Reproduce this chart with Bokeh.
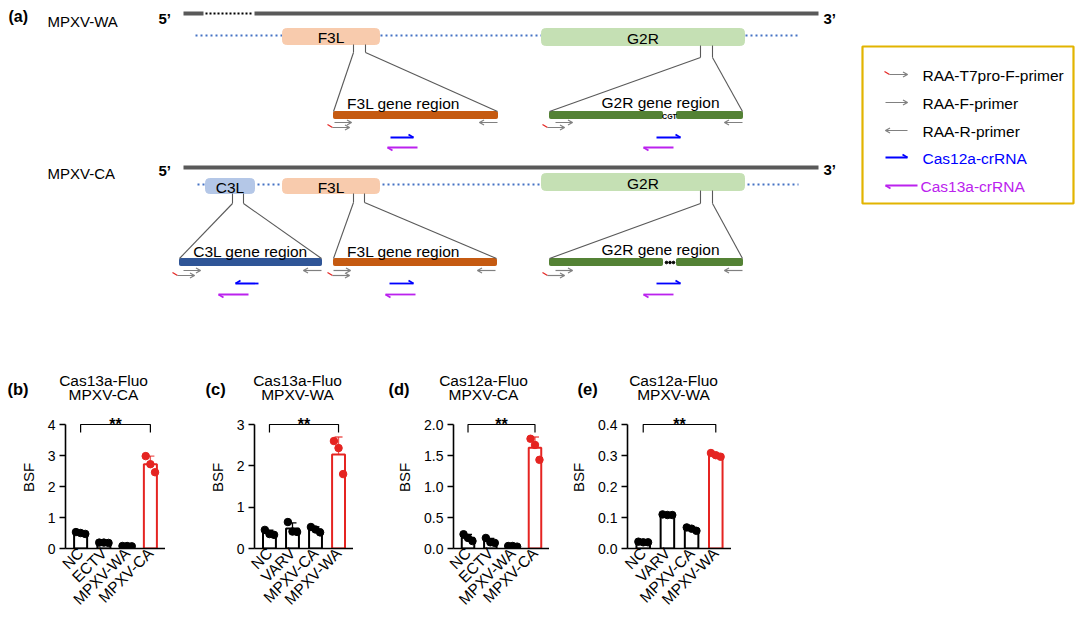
import math
import numpy as np
from bokeh.plotting import figure
from bokeh.models import (Range1d, FixedTicker, PrintfTickFormatter, Whisker,
                          ColumnDataSource, TeeHead)
from bokeh.layouts import column, row
from bokeh.core.properties import value
from bokeh.embed import file_html
from bokeh.resources import INLINE

FONT = "Liberation Sans"

# ---------------- data (bar charts) ----------------
b_categories = ["NC", "ECTV", "MPXV-WA", "MPXV-CA"]
b_points = [[0.53, 0.50, 0.47], [0.19, 0.19, 0.18], [0.08, 0.08, 0.07], [2.98, 2.72, 2.46]]
b_title = ["Cas13a-Fluo", "MPXV-CA"]
b_yticks = [0, 1, 2, 3, 4]

c_categories = ["NC", "VARV", "MPXV-CA", "MPXV-WA"]
c_points = [[0.45, 0.35, 0.33], [0.64, 0.41, 0.40], [0.52, 0.46, 0.39], [2.60, 2.43, 1.80]]
c_title = ["Cas13a-Fluo", "MPXV-WA"]
c_yticks = [0, 1, 2, 3]

d_categories = ["NC", "ECTV", "MPXV-WA", "MPXV-CA"]
d_points = [[0.23, 0.17, 0.12], [0.17, 0.10, 0.09], [0.04, 0.04, 0.03], [1.77, 1.67, 1.43]]
d_title = ["Cas12a-Fluo", "MPXV-CA"]
d_yticks = [0.0, 0.5, 1.0, 1.5, 2.0]

e_categories = ["NC", "VARV", "MPXV-CA", "MPXV-WA"]
e_points = [[0.022, 0.020, 0.020], [0.110, 0.108, 0.108], [0.068, 0.064, 0.057], [0.308, 0.301, 0.296]]
e_title = ["Cas12a-Fluo", "MPXV-WA"]
e_yticks = [0.0, 0.1, 0.2, 0.3, 0.4]

panel_tags = ["(b)", "(c)", "(d)", "(e)"]
legend_labels = ["RAA-T7pro-F-primer", "RAA-F-primer", "RAA-R-primer", "Cas12a-crRNA", "Cas13a-crRNA"]

RED = "#E52421"
BLUE = "#0000FF"
PURPLE = "#BB22EE"
GRAY = "#808080"
DARK = "#595959"

TOP_H = 406          # height of the schematic (and panel titles) area
BAR_H = 210          # height of the bar-chart row
FRAME_BOTTOM = 548   # screen y of the bar charts' zero line
AXIS_TOP = 424       # screen y of the top tick

# ---------------- diagram (a) ----------------
d = figure(width=1080, height=TOP_H, x_range=Range1d(0, 1080), y_range=Range1d(TOP_H, 0),
           x_axis_type=None, y_axis_type=None, output_backend="svg", toolbar_location=None,
           min_border=0, outline_line_color=None)
d.grid.visible = False

def txt(x, y, s, size="15px", color="black", align="left", bold=False, baseline="middle"):
    d.text(x=[x], y=[y], text=[s], text_font=value(FONT), text_font_size=value(size),
           text_color=color, text_align=align, text_baseline=baseline,
           text_font_style="bold" if bold else "normal")

segs = dict(x0=[], y0=[], x1=[], y1=[], c=[], w=[])

def seg(x0, y0, x1, y1, c, w):
    segs["x0"].append(x0); segs["y0"].append(y0)
    segs["x1"].append(x1); segs["y1"].append(y1)
    segs["c"].append(c); segs["w"].append(w)

def arrow(xa, xb, y, c, w=1.2, head="both", hl=4.5, hw=2.6):
    seg(xa, y, xb, y, c, w)
    s = 1 if xb > xa else -1
    if head in ("both", "up"):
        seg(xb, y, xb - s * hl, y - hw, c, w)
    if head in ("both", "down"):
        seg(xb, y, xb - s * hl, y + hw, c, w)

def t7(xa, xb, y):
    seg(xa - 5, y - 3, xa, y, RED, 1.2)
    arrow(xa, xb, y, GRAY)

# genome lines
d.segment(x0=[183, 254, 183], y0=[13, 13, 167], x1=[203, 818, 818], y1=[13, 13, 167],
          line_color=DARK, line_width=4)
d.segment(x0=[205], y0=[13], x1=[252], y1=[13], line_color="black", line_width=2,
          line_dash=value([2, 2]))
# blue dotted backbone
d.segment(x0=[195, 197], y0=[35, 184], x1=[800, 798], y1=[35, 184],
          line_color="#4472C4", line_width=2, line_dash=value([2, 3]))

# gene boxes
boxes = [(282, 379, 28, 44, "#F8CBAD", "F3L"), (541, 744, 28, 45, "#C5E0B4", "G2R"),
         (205, 254, 178, 193, "#B4C7E7", "C3L"), (282, 379, 178, 193, "#F8CBAD", "F3L"),
         (541, 744, 173, 190, "#C5E0B4", "G2R")]
for l, r, t, b, col, name in boxes:
    d.quad(left=[l], right=[r], top=[t], bottom=[b], fill_color=col, line_color=col,
           line_width=1, border_radius=4)
    txt((l + r) / 2, (t + b) / 2 + 1, name, size="15.5px", align="center")

# connectors
conn = [((353, 44), (365, 44), 52, 52, 333, 497, 111),
        ((700, 45), (712, 45), 57, 57, 549, 742, 111),
        ((232, 193), (243, 193), 203, 203, 179, 321, 258),
        ((353, 193), (364, 193), 202, 202, 333, 496, 258),
        ((700, 190), (712, 190), 203, 203, 549, 742, 258)]
for (xl, yt), (xr, _), yl, yr, gl, gr, gy in conn:
    seg(xl, yt, xl, yl, DARK, 1.1)
    seg(xr, yt, xr, yr, DARK, 1.1)
    seg(xl, yl, gl, gy, DARK, 1.1)
    seg(xr, yr, gr, gy, DARK, 1.1)

# gene region bars
bars = [(333, 497, 111, 118, "#C55A11"), (549, 662, 111, 118, "#548235"), (676, 742, 111, 118, "#548235"),
        (179, 321, 258, 265, "#2F5597"), (333, 496, 258, 265, "#C55A11"),
        (549, 662, 258, 265, "#548235"), (676, 742, 258, 265, "#548235")]
for l, r, t, b, col in bars:
    d.quad(left=[l], right=[r], top=[t], bottom=[b], fill_color=col, line_color=col, border_radius=1)
txt(669, 115.5, "CGT", size="7px", align="center", bold=True)
d.scatter(x=[666, 669.5, 673], y=[262, 262, 262], size=2.6, color="black")

txt(403, 103, "F3L gene region", size="15.5px", align="center")
txt(660, 102, "G2R gene region", size="15.5px", align="center")
txt(250, 251, "C3L gene region", size="15.5px", align="center")
txt(403, 251, "F3L gene region", size="15.5px", align="center")
txt(660, 249, "G2R gene region", size="15.5px", align="center")

# primers
for fx, tx, rx, yf in [(334, 332, 497, 122), (555, 547, 742, 122),
                       (183, 177, 321, 270), (333, 332, 495, 270), (555, 547, 742, 270)]:
    arrow(fx, fx + 17, yf, GRAY)
    t7(tx, tx + 17, yf + 5)
    arrow(rx, rx - 18, yf, GRAY)

# crRNAs
arrow(390, 413, 137, BLUE, w=1.8, head="up", hl=5, hw=3)
arrow(417, 387, 147, PURPLE, w=1.8, head="down", hl=5, hw=3)
arrow(656, 680, 137, BLUE, w=1.8, head="up", hl=5, hw=3)
arrow(673, 643, 147, PURPLE, w=1.8, head="down", hl=5, hw=3)
arrow(258, 235, 283, BLUE, w=1.8, head="up", hl=5, hw=3)
arrow(248, 218, 294, PURPLE, w=1.8, head="down", hl=5, hw=3)
arrow(389, 413, 283, BLUE, w=1.8, head="up", hl=5, hw=3)
arrow(415, 385, 294, PURPLE, w=1.8, head="down", hl=5, hw=3)
arrow(656, 680, 283, BLUE, w=1.8, head="up", hl=5, hw=3)
arrow(673, 643, 294, PURPLE, w=1.8, head="down", hl=5, hw=3)

# legend
d.quad(left=[862], right=[1073], top=[46], bottom=[203], fill_color=None,
       line_color="#E2B400", line_width=2.2)
ly = [74, 102, 130, 157, 185]
t7(889, 907, ly[0])
arrow(885, 907, ly[1], GRAY)
arrow(907, 885, ly[2], GRAY)
arrow(885, 907, ly[3], BLUE, w=1.8, head="up", hl=5, hw=3)
arrow(917, 885, ly[4], PURPLE, w=1.8, head="down", hl=5, hw=3)
lcols = ["black", "black", "black", BLUE, PURPLE]
for i, lab in enumerate(legend_labels):
    txt(922 if i < 4 else 920, ly[i] + 1, lab, size="15.5px", color=lcols[i])

d.segment(x0="x0", y0="y0", x1="x1", y1="y1", line_color="c", line_width="w",
          source=ColumnDataSource(segs))

txt(8, 16, "(a)", size="16px", bold=True)
txt(47, 21, "MPXV-WA", size="15px")
txt(47, 173, "MPXV-CA", size="15px")
txt(158, 18, "5\u2019", size="15px", bold=True)
txt(823, 18, "3\u2019", size="15px", bold=True)
txt(158, 170, "5\u2019", size="15px", bold=True)
txt(823, 169, "3\u2019", size="15px", bold=True)

# panel titles of the bar charts (drawn in the top area)
tag_x = [7, 205, 388, 577]
title_cx = [103, 297, 483, 673]
for tag, tx, cx, ttl in zip(panel_tags, tag_x, title_cx, [b_title, c_title, d_title, e_title]):
    txt(tx, 388, tag, size="16.5px", bold=True)
    txt(cx, 380, ttl[0], size="15.5px", align="center")
    txt(cx, 394, ttl[1], size="15.5px", align="center")

# ---------------- bar charts ----------------
FRAME_H = FRAME_BOTTOM - TOP_H
AXIS_PX = FRAME_BOTTOM - AXIS_TOP

def bar_chart(cats, pts, yticks, fmt, border_left, frame_w):
    ymax = yticks[-1]
    n = len(cats)
    idx = list(range(n))
    means = [float(np.mean(v)) for v in pts]
    sds = [float(np.std(v, ddof=1)) for v in pts]
    cols = ["black"] * (n - 1) + [RED]
    p = figure(width=border_left + frame_w, height=BAR_H,
               x_range=Range1d(-0.65, n - 1 + 0.65), y_range=Range1d(0, ymax * FRAME_H / AXIS_PX),
               output_backend="svg", toolbar_location=None,
               min_border_left=border_left, min_border_right=0,
               min_border_top=0, min_border_bottom=BAR_H - FRAME_H, outline_line_color=None)
    p.grid.visible = False
    p.vbar(x=idx, top=means, width=0.56, fill_color="white", line_color=cols, line_width=2)
    for group, col, alpha in [(idx[:-1], "black", 1.0), (idx[-1:], RED, 0.75)]:
        src = ColumnDataSource(dict(x=group, upper=[means[i] + sds[i] for i in group],
                                    lower=[means[i] - sds[i] for i in group]))
        p.add_layout(Whisker(base="x", upper="upper", lower="lower", source=src,
                             line_color=col, line_width=1.3, line_alpha=alpha,
                             upper_head=TeeHead(size=8, line_color=col, line_width=1.3, line_alpha=alpha),
                             lower_head=TeeHead(size=8, line_color=col, line_width=1.3, line_alpha=alpha)))
    offs = [-0.2, 0.0, 0.2]
    px, py, pc = [], [], []
    for i, vals in enumerate(pts):
        for j, v in enumerate(vals):
            px.append(i + offs[j]); py.append(v); pc.append(cols[i])
    p.scatter(x=px, y=py, size=7.5, color=pc)
    # significance bracket
    drop = ymax * 8 / AXIS_PX
    p.line(x=[0, 0, n - 1, n - 1], y=[ymax - drop, ymax, ymax, ymax - drop],
           line_color="black", line_width=1.2)
    p.text(x=[(n - 1) / 2], y=[ymax], text=["**"], text_font=value(FONT), text_font_size=value("16px"),
           text_align="center", text_baseline="middle", text_font_style="bold")
    # axes
    p.yaxis.ticker = FixedTicker(ticks=yticks, minor_ticks=[])
    if fmt:
        p.yaxis.formatter = PrintfTickFormatter(format=fmt)
    p.yaxis.bounds = (0, ymax)
    p.yaxis.axis_label = "BSF"
    p.yaxis.axis_label_text_font = FONT
    p.yaxis.axis_label_text_font_size = "15px"
    p.yaxis.axis_label_text_font_style = "normal"
    p.yaxis.axis_label_text_color = "black"
    p.yaxis.axis_label_standoff = 8
    p.xaxis.ticker = FixedTicker(ticks=idx, minor_ticks=[])
    p.xaxis.major_label_overrides = {i: c for i, c in enumerate(cats)}
    p.xaxis.major_label_orientation = math.pi / 4
    p.xaxis.major_tick_out = 0
    p.xaxis.major_tick_in = 0
    p.xaxis.major_label_standoff = 2
    for ax in (p.xaxis, p.yaxis):
        ax.axis_line_width = 1.6
        ax.axis_line_color = "black"
        ax.major_label_text_font = FONT
        ax.major_label_text_color = "black"
        ax.minor_tick_line_color = None
    p.xaxis.major_label_text_font_size = "15.5px"
    p.yaxis.major_label_text_font_size = "14px"
    p.yaxis.major_tick_out = 6
    p.yaxis.major_tick_in = 0
    p.yaxis.major_tick_line_width = 1.6
    p.yaxis.major_label_standoff = 4
    return p

fb = bar_chart(b_categories, b_points, b_yticks, None, 65, 100)
fc = bar_chart(c_categories, c_points, c_yticks, None, 89, 99)
fd = bar_chart(d_categories, d_points, d_yticks, "%.1f", 100, 96)
fe = bar_chart(e_categories, e_points, e_yticks, "%.1f", 78, 104)

layout = column(d, row(fb, fc, fd, fe, spacing=0), spacing=0)
open("out.html", "w").write(file_html(layout, INLINE))
